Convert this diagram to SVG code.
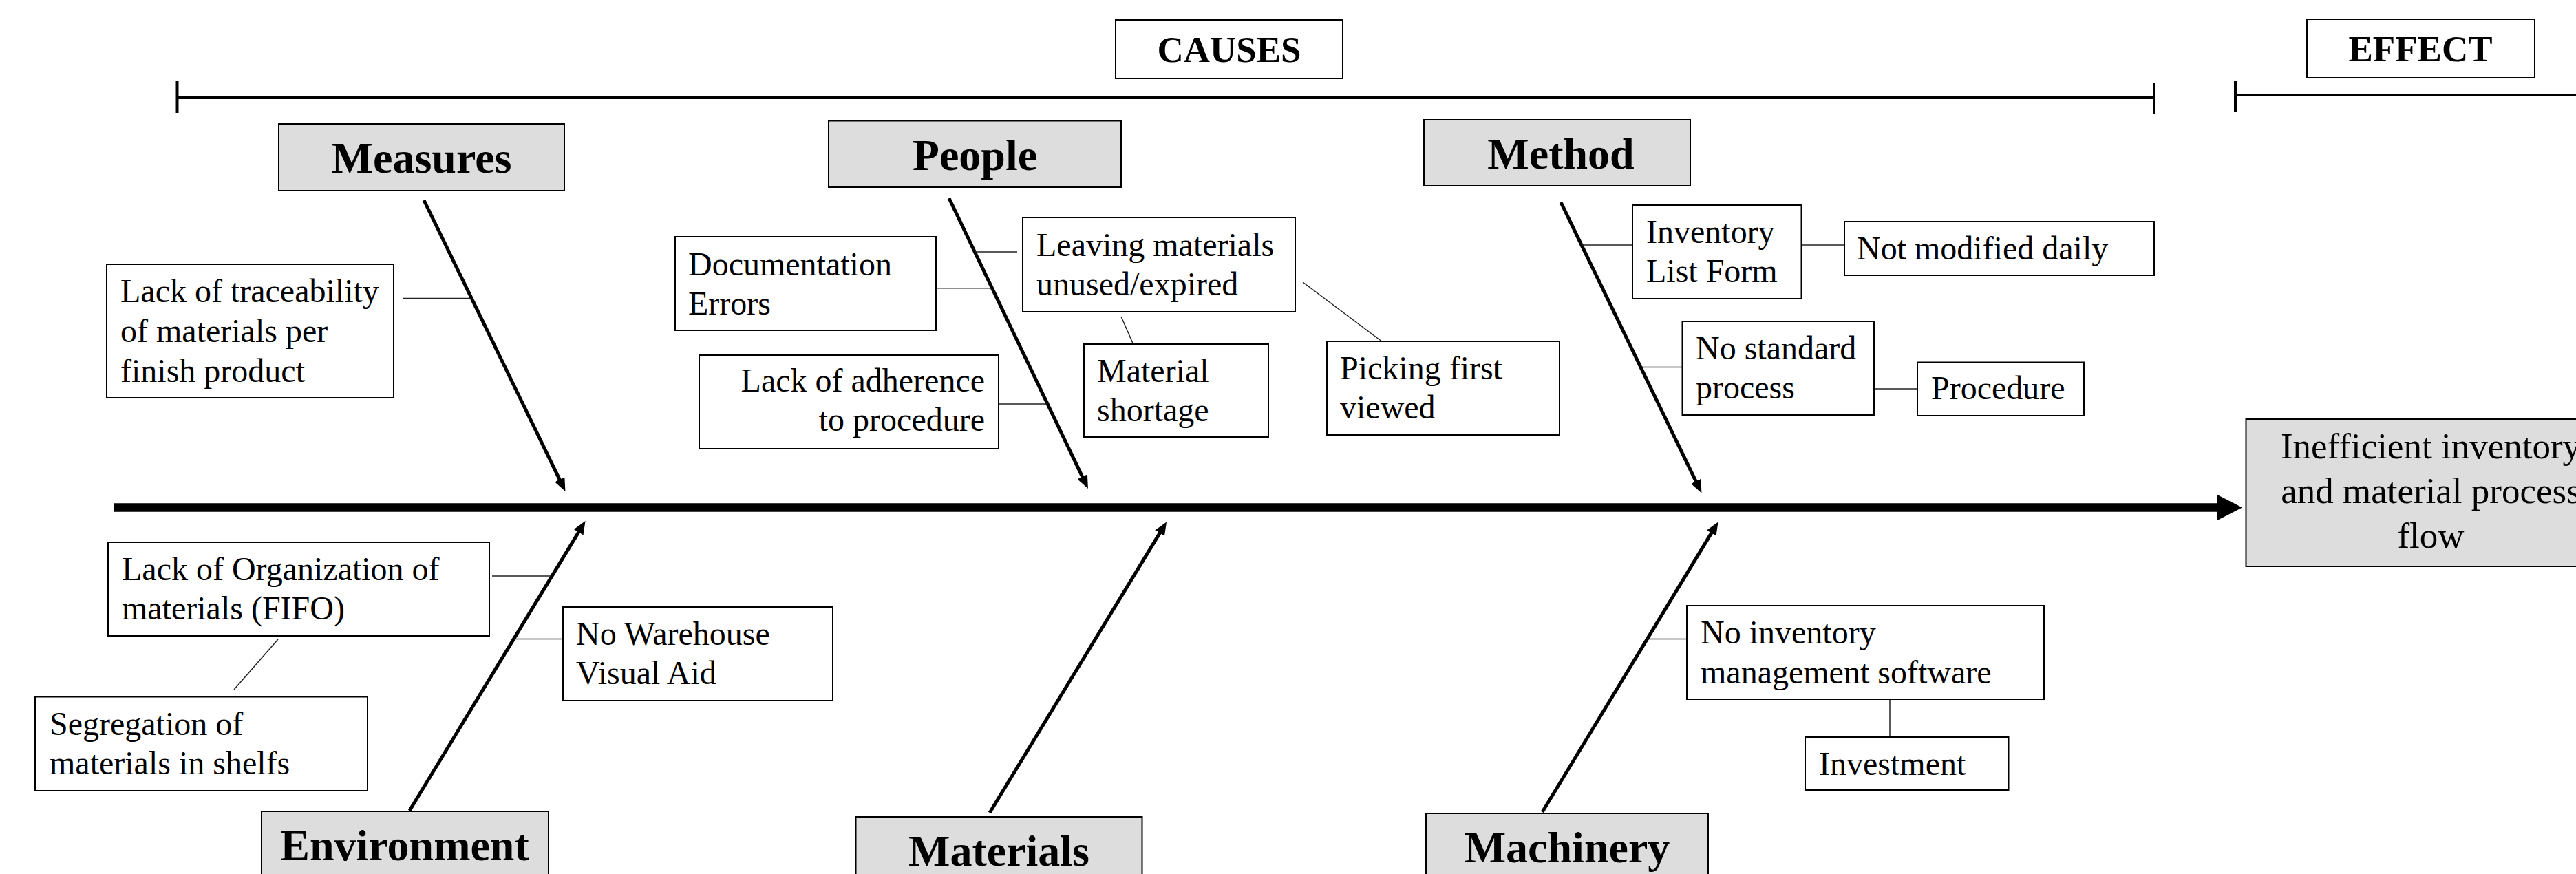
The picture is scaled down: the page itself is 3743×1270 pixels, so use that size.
<svg xmlns="http://www.w3.org/2000/svg" width="3743" height="1270" viewBox="0 0 3743 1270">
<style>
  .hdr { fill: #dddddd; stroke: #000; stroke-width: 2; }
  .box { fill: #ffffff; stroke: #000; stroke-width: 2; }
  .t { font-family: "Liberation Serif", "Times New Roman", serif; font-size: 48px; fill: #000; }
  .h { font-family: "Liberation Serif", "Times New Roman", serif; font-size: 64px; font-weight: bold; fill: #000; text-anchor: middle; }
  .ttl { font-family: "Liberation Serif", "Times New Roman", serif; font-size: 53px; font-weight: bold; fill: #000; text-anchor: middle; }
  .eff { font-family: "Liberation Serif", "Times New Roman", serif; font-size: 53px; fill: #000; text-anchor: middle; }
  .bone { stroke: #000; stroke-width: 5; fill: none; marker-end: url(#ah); }
  .thin { stroke: #222; stroke-width: 1.5; fill: none; }
  .bar { stroke: #000; stroke-width: 4; fill: none; }
</style>
<defs>
  <marker id="ah" markerUnits="userSpaceOnUse" markerWidth="19" markerHeight="16" viewBox="0 0 19 16" refX="12" refY="8" orient="auto">
    <path d="M0,0 L19,8 L0,16 z" fill="#000"/>
  </marker>
</defs>
<rect x="0" y="0" width="3743" height="1270" fill="#ffffff"/>

<g id="range-bars">
  <line class="bar" x1="257.5" y1="142" x2="3130" y2="142"/>
  <line class="bar" x1="257.5" y1="118" x2="257.5" y2="164"/>
  <line class="bar" x1="3130" y1="120" x2="3130" y2="165"/>
  <line class="bar" x1="3248" y1="138" x2="3743" y2="138"/>
  <line class="bar" x1="3248" y1="118" x2="3248" y2="163"/>
</g>

<g id="causes-title">
  <rect class="box" x="1621" y="29" width="330" height="85"/>
  <text class="ttl" x="1786" y="90">CAUSES</text>
</g>
<g id="effect-title">
  <rect class="box" x="3352" y="28" width="331" height="85"/>
  <text class="ttl" x="3517" y="89">EFFECT</text>
</g>

<g id="connectors">
  <line x1="166" y1="737.5" x2="3224" y2="737.5" stroke="#000" stroke-width="12.5"/>
  <polygon points="3222,719 3258,737.5 3222,756" fill="#000"/>
  <path class="bone" d="M616,291 L818.4,707.6"/>
  <path class="bone" d="M1379,288 L1577.9,703.6"/>
  <path class="bone" d="M2268,294 L2469.4,710.1"/>
  <path class="bone" d="M595,1178 L846.9,763.1"/>
  <path class="bone" d="M1438,1181 L1691.4,764.4"/>
  <path class="bone" d="M2241,1180 L2492.9,764.4"/>
  <line class="thin" x1="586" y1="433.5" x2="685" y2="433.5"/>
  <line class="thin" x1="1360" y1="418.8" x2="1441" y2="418.8"/>
  <line class="thin" x1="1416" y1="366" x2="1478" y2="366"/>
  <line class="thin" x1="1451" y1="587" x2="1521" y2="587"/>
  <line class="thin" x1="1629" y1="460" x2="1646.6" y2="500"/>
  <line class="thin" x1="1893" y1="410" x2="2009" y2="497"/>
  <line class="thin" x1="2298" y1="356" x2="2372" y2="356"/>
  <line class="thin" x1="2617.5" y1="356" x2="2680" y2="356"/>
  <line class="thin" x1="2384" y1="533.5" x2="2444.5" y2="533.5"/>
  <line class="thin" x1="2723" y1="565" x2="2786" y2="565"/>
  <line class="thin" x1="715" y1="837" x2="801" y2="837"/>
  <line class="thin" x1="404" y1="929" x2="340" y2="1002"/>
  <line class="thin" x1="746" y1="928.5" x2="818" y2="928.5"/>
  <line class="thin" x1="2393" y1="928.5" x2="2451" y2="928.5"/>
  <line class="thin" x1="2746" y1="1017" x2="2746" y2="1071"/>
</g>

<g id="measures">
  <rect class="hdr" x="405" y="180" width="415" height="97"/>
  <text class="h" x="612.5" y="251">Measures</text>
</g>
<g id="people">
  <rect class="hdr" x="1204" y="175.5" width="425" height="96.5"/>
  <text class="h" x="1416.5" y="247">People</text>
</g>
<g id="method">
  <rect class="hdr" x="2069" y="174" width="387" height="96"/>
  <text class="h" x="2268" y="245">Method</text>
</g>
<g id="environment">
  <rect class="hdr" x="380" y="1179" width="417" height="100"/>
  <text class="h" x="588" y="1250">Environment</text>
</g>
<g id="materials">
  <rect class="hdr" x="1243.5" y="1187" width="416" height="100"/>
  <text class="h" x="1451.5" y="1258">Materials</text>
</g>
<g id="machinery">
  <rect class="hdr" x="2072" y="1182" width="410" height="100"/>
  <text class="h" x="2277" y="1253">Machinery</text>
</g>

<g id="effect">
  <rect class="hdr" x="3263.5" y="609" width="540" height="214"/>
  <text class="eff" x="3532"><tspan x="3532" y="666">Inefficient inventory</tspan><tspan x="3532" y="731">and material process</tspan><tspan x="3532" y="796">flow</tspan></text>
</g>

<g id="lack-traceability">
  <rect class="box" x="155" y="384" width="417" height="194"/>
  <text class="t"><tspan x="175" y="439">Lack of traceability</tspan><tspan x="175" y="497">of materials per</tspan><tspan x="175" y="555">finish product</tspan></text>
</g>
<g id="documentation-errors">
  <rect class="box" x="981" y="344" width="379" height="136"/>
  <text class="t"><tspan x="1000" y="400">Documentation</tspan><tspan x="1000" y="457">Errors</tspan></text>
</g>
<g id="leaving-materials">
  <rect class="box" x="1486" y="316" width="396" height="137"/>
  <text class="t"><tspan x="1506" y="371.5">Leaving materials</tspan><tspan x="1506" y="429">unused/expired</tspan></text>
</g>
<g id="lack-adherence">
  <rect class="box" x="1016" y="516" width="435" height="136"/>
  <text class="t" text-anchor="end"><tspan x="1431" y="569">Lack of adherence</tspan><tspan x="1431" y="626">to procedure</tspan></text>
</g>
<g id="material-shortage">
  <rect class="box" x="1575" y="500" width="268" height="135"/>
  <text class="t"><tspan x="1594" y="555">Material</tspan><tspan x="1594" y="612">shortage</tspan></text>
</g>
<g id="picking-first">
  <rect class="box" x="1928" y="496" width="338" height="136"/>
  <text class="t"><tspan x="1947" y="551">Picking first</tspan><tspan x="1947" y="608">viewed</tspan></text>
</g>
<g id="inventory-list">
  <rect class="box" x="2372" y="298" width="245.5" height="136"/>
  <text class="t"><tspan x="2392" y="353">Inventory</tspan><tspan x="2392" y="410">List Form</tspan></text>
</g>
<g id="not-modified">
  <rect class="box" x="2680" y="322" width="450" height="78"/>
  <text class="t" x="2698" y="377">Not modified daily</text>
</g>
<g id="no-standard">
  <rect class="box" x="2444.5" y="467" width="278.5" height="136"/>
  <text class="t"><tspan x="2464" y="522">No standard</tspan><tspan x="2464" y="579">process</tspan></text>
</g>
<g id="procedure">
  <rect class="box" x="2786" y="526.5" width="242" height="77.5"/>
  <text class="t" x="2806" y="580">Procedure</text>
</g>
<g id="lack-organization">
  <rect class="box" x="157" y="788" width="554" height="136"/>
  <text class="t"><tspan x="177" y="843">Lack of Organization of</tspan><tspan x="177" y="900">materials (FIFO)</tspan></text>
</g>
<g id="no-warehouse">
  <rect class="box" x="818" y="882" width="392" height="136"/>
  <text class="t"><tspan x="837" y="937">No Warehouse</tspan><tspan x="837" y="994">Visual Aid</tspan></text>
</g>
<g id="segregation">
  <rect class="box" x="51" y="1012.5" width="483" height="136.5"/>
  <text class="t"><tspan x="72" y="1068">Segregation of</tspan><tspan x="72" y="1125">materials in shelfs</tspan></text>
</g>
<g id="no-inventory-software">
  <rect class="box" x="2451" y="880" width="519" height="136"/>
  <text class="t"><tspan x="2471" y="935">No inventory</tspan><tspan x="2471" y="993">management software</tspan></text>
</g>
<g id="investment">
  <rect class="box" x="2623" y="1071" width="295.5" height="77"/>
  <text class="t" x="2643" y="1126">Investment</text>
</g>
</svg>
